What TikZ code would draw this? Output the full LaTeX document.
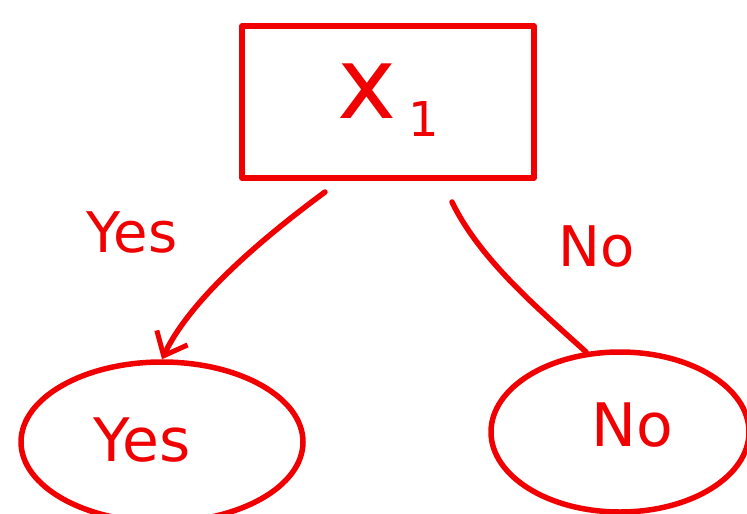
\documentclass[tikz,border=0pt]{standalone}
\usepackage{fontspec}
\setmainfont{DejaVu Sans}
\usetikzlibrary{arrows.meta,shapes.geometric}
\definecolor{pen}{RGB}{240,0,0}
\begin{document}
\begin{tikzpicture}[x=1pt,y=-1pt,
  ink/.style={draw=pen,line width=5.5pt,line cap=round,line join=round},
  lbl/.style={text=pen,font=\fontsize{56}{56}\selectfont},
  inlbl/.style={text=pen,font=\fontsize{60}{60}\selectfont}]
\useasboundingbox (0,0) rectangle (747,514);
\node[ink,rectangle,minimum width=292pt,minimum height=152pt] (root) at (388,102) {};
\node[text=pen,font=\fontsize{100}{100}\selectfont,inner sep=0pt] (x) at (388,100) {x\hspace{12pt}\raisebox{-18pt}{\fontsize{48}{48}\selectfont 1}};
\node[ink,ellipse,minimum width=282pt,minimum height=160pt] (yes) at (162,442) {};
\node[inlbl] (yest) at (142,440) {Yes};
\node[ink,ellipse,minimum width=258pt,minimum height=160pt] (no) at (620,432) {};
\node[inlbl] (not) at (632,425) {No};
\node[lbl] (ly) at (132,232) {Yes};
\node[lbl] (ln) at (597,246) {No};
\draw[ink,-{Straight Barb[length=20pt,width=34pt,line width=5pt]}] (325,192) .. controls (260,240) and (190,300) .. (yes.north);
\draw[ink] (452,202) .. controls (480,260) and (540,310) .. (no.113);
\end{tikzpicture}
\end{document}
